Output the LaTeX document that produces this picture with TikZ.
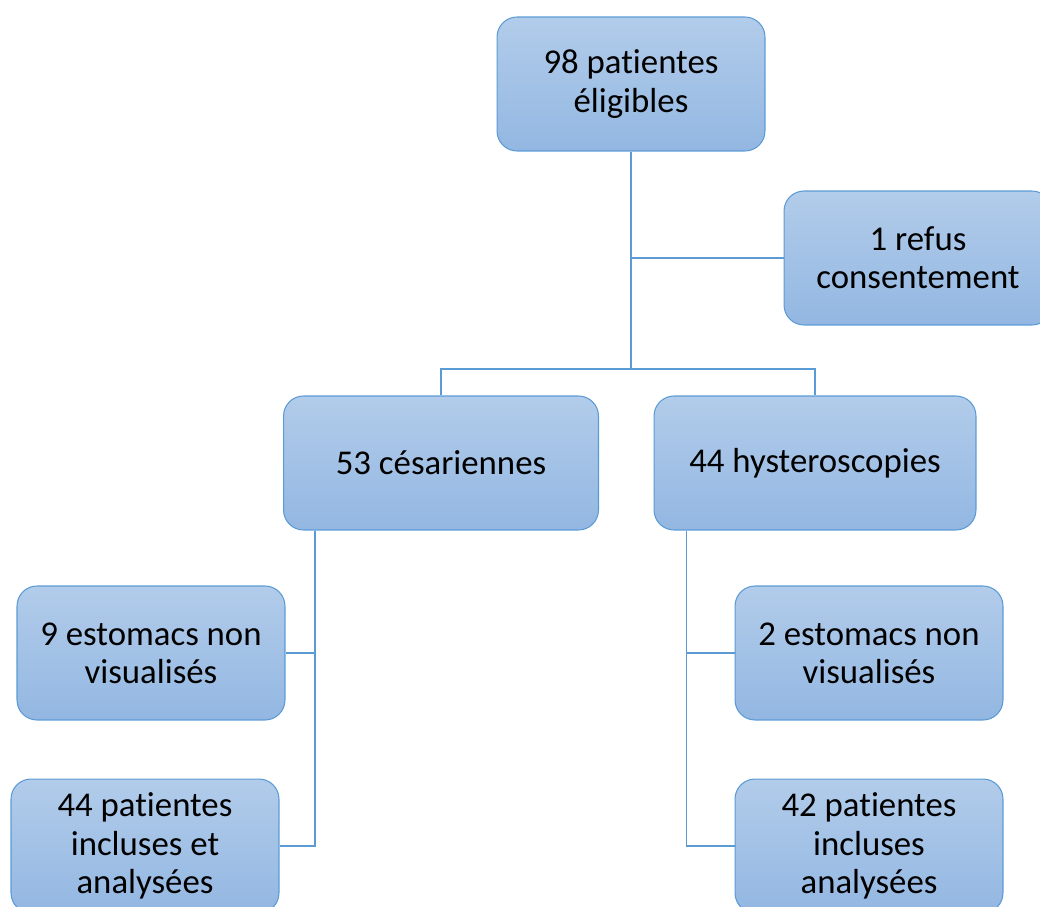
\documentclass[tikz,border=0pt]{standalone}
\usepackage{fontspec}
\setmainfont[Ligatures=NoCommon]{Carlito}
\definecolor{boxtop}{HTML}{B2CCEA}
\definecolor{boxbot}{HTML}{93B7E2}
\definecolor{boxline}{HTML}{5B9BD5}

\begin{document}
\begin{tikzpicture}[
  x=0.02cm, y=-0.02cm,
  box/.style={rectangle, rounded corners=0.4cm, draw=boxline, line width=0.6pt,
    top color=boxtop, bottom color=boxbot, align=center,
    minimum width=5.36cm, minimum height=2.68cm,
    font=\fontsize{19.8}{21.8}\selectfont},
  wide/.style={minimum width=6.3cm},
  link/.style={draw=boxline, line width=0.6pt}
  ]
  \useasboundingbox (0,0) rectangle (1040,906);

  \node[box] (eligible) at (631,84) {98 patientes\\éligibles};
  \node[box] (refus) at (918,258) {1 refus\\consentement};
  \node[box, wide] (cesar) at (441,463) {53 césariennes};
  \node[box, wide, minimum width=6.44cm] (hystero) at (815,463) {44 hysteroscopies};
  \node[box] (novisA) at (151,653) {9 estomacs non\\visualisés};
  \node[box] (inclA) at (145,846) {44 patientes\\incluses et\\analysées};
  \node[box] (novisB) at (869,653) {2 estomacs non\\visualisés};
  \node[box] (inclB) at (869,846) {42 patientes\\incluses\\analysées};

  \coordinate (hub) at (631,369);

  % top branch
  \draw[link] (eligible.south) -- (eligible.south |- hub);
  \draw[link] (eligible.south |- refus.west) -- (refus.west);
  \draw[link] (cesar.north) |- (hub) -| (hystero.north);

  % left branch
  \draw[link] ([xshift=0.64cm]cesar.south west) |- (novisA.east);
  \draw[link] ([xshift=0.64cm]cesar.south west) |- (inclA.east);

  % right branch
  \draw[link] ([xshift=0.66cm]hystero.south west) |- (novisB.west);
  \draw[link] ([xshift=0.66cm]hystero.south west) |- (inclB.west);
\end{tikzpicture}
\end{document}
